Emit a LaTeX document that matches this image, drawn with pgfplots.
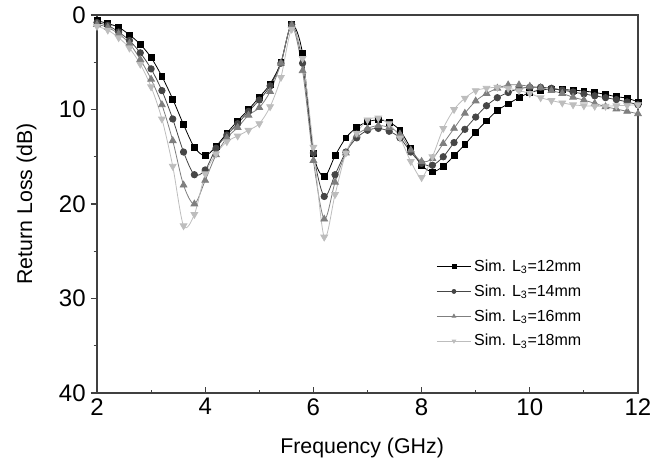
\documentclass[border=0pt]{standalone}
\usepackage{pgfplots}
\pgfplotsset{compat=1.18}
\usepackage{fontspec}
\setmainfont{Liberation Sans}
\definecolor{c1}{HTML}{000000}
\definecolor{c2}{HTML}{464646}
\definecolor{c3}{HTML}{7F7F7F}
\definecolor{c4}{HTML}{BDBDBD}
\begin{document}
\begin{tikzpicture}
\useasboundingbox (-72.75pt,-56.25pt) rectangle (426pt,294.75pt);
\begin{axis}[
 scale only axis, width=405.75pt, height=283.5pt,
 xmin=2, xmax=12, ymin=0, ymax=40, y dir=reverse,
 xtick={2,4,...,12}, ytick={0,10,...,40},
 minor xtick={3,5,...,11}, minor ytick={5,15,25,35},
 tick pos=left,
 xtick align=inside, ytick align=outside,
 major tick length=4.5pt, minor tick length=2.5pt,
 axis line style={black!75, line width=1pt},
 every tick/.style={black!75, line width=0.8pt},
 /pgf/number format/assume math mode=true,
 every tick label/.append style={font=\fontsize{18}{20}\selectfont},
 yticklabel style={xshift=-0.5pt},
 xticklabel style={yshift=-0.5pt},
 label style={font=\fontsize{16}{18}\selectfont},
 xlabel={Frequency (GHz)}, ylabel={Return Loss (dB)},
 xlabel style={at={(axis description cs:0.49,-0.145)}, anchor=center},
 ylabel style={at={(axis description cs:-0.13,0.5)}, anchor=center},
 legend style={at={(0.627,0.36)}, anchor=north west, draw=none, fill=none,
   font=\fontsize{12}{14}\selectfont, row sep=4.4pt, inner sep=0pt},
 legend cell align=left,
 legend image code/.code={\draw[mark repeat=2,mark phase=2,#1,mark size=1.5pt] plot coordinates {(0cm,0cm) (0.45cm,0cm) (0.9cm,0cm)};},
]
\addplot[c1, line width=0.6pt, smooth, tension=0.5, mark=square*, mark size=2.2pt, mark options={solid, fill=c1}] coordinates {
(2.0,0.6) (2.2,0.9) (2.4,1.3) (2.6,2.1) (2.8,3.1) (3.0,4.5) (3.2,6.5) (3.4,8.9) (3.6,11.6) (3.8,14.0)
(4.0,14.9) (4.2,13.9) (4.4,12.5) (4.6,11.2) (4.8,10.0) (5.0,8.7) (5.2,7.3) (5.4,5.0) (5.6,1.0) (5.8,4.1)
(6.0,14.6) (6.2,17.1) (6.4,14.9) (6.6,13.0) (6.8,11.9) (7.0,11.3) (7.2,11.1) (7.4,11.35) (7.6,12.2) (7.8,14.1)
(8.0,15.9) (8.2,16.6) (8.4,16.0) (8.6,14.9) (8.8,13.7) (9.0,12.4) (9.2,11.2) (9.4,10.1) (9.6,9.4) (9.8,8.75)
(10.0,8.2) (10.2,7.95) (10.4,7.85) (10.6,7.9) (10.8,7.95) (11.0,8.05) (11.2,8.2) (11.4,8.4) (11.6,8.65) (11.8,8.8) (12.0,9.2)
};
\addlegendentry{Sim. L\textsubscript{3}=12mm}
\addplot[c2, line width=0.6pt, smooth, tension=0.5, mark=*, mark size=2.4pt, mark options={solid, fill=c2}] coordinates {
(2.0,0.8) (2.2,1.1) (2.4,1.8) (2.6,2.7) (2.8,4.0) (3.0,5.7) (3.2,8.0) (3.4,11.0) (3.6,14.5) (3.8,16.9)
(4.0,16.4) (4.2,14.1) (4.4,12.7) (4.6,11.5) (4.8,10.2) (5.0,9.0) (5.2,7.5) (5.4,5.1) (5.6,1.0) (5.8,5.1)
(6.0,14.6) (6.2,19.2) (6.4,16.9) (6.6,14.5) (6.8,13.0) (7.0,12.2) (7.2,12.0) (7.4,12.3) (7.6,13.0) (7.8,14.5)
(8.0,15.7) (8.2,15.9) (8.4,15.0) (8.6,13.5) (8.8,12.1) (9.0,10.8) (9.2,9.6) (9.4,8.75) (9.6,8.2) (9.8,7.8)
(10.0,7.65) (10.2,7.65) (10.4,7.75) (10.6,7.95) (10.8,8.15) (11.0,8.35) (11.2,8.55) (11.4,8.75) (11.6,8.95) (11.8,9.2) (12.0,9.5)
};
\addlegendentry{Sim. L\textsubscript{3}=14mm}
\addplot[c3, line width=0.6pt, smooth, tension=0.5, mark=triangle*, mark size=2.9pt, mark options={solid, fill=c3}] coordinates {
(2.0,1.0) (2.2,1.3) (2.4,2.0) (2.6,3.0) (2.8,4.7) (3.0,6.8) (3.2,9.5) (3.4,13.3) (3.6,18.0) (3.8,20.0)
(4.0,17.5) (4.2,14.8) (4.4,13.0) (4.6,11.9) (4.8,10.6) (5.0,9.8) (5.2,8.1) (5.4,5.1) (5.6,1.1) (5.8,5.9)
(6.0,15.4) (6.2,21.6) (6.4,17.7) (6.6,14.6) (6.8,12.7) (7.0,12.0) (7.2,11.7) (7.4,11.9) (7.6,12.6) (7.8,14.3)
(8.0,15.5) (8.2,15.2) (8.4,13.6) (8.6,12.0) (8.8,10.4) (9.0,9.1) (9.2,8.3) (9.4,7.75) (9.6,7.4) (9.8,7.4)
(10.0,7.55) (10.2,7.7) (10.4,8.0) (10.6,8.3) (10.8,8.7) (11.0,9.0) (11.2,9.35) (11.4,9.7) (11.6,9.95) (11.8,10.2) (12.0,10.45)
};
\addlegendentry{Sim. L\textsubscript{3}=16mm}
\addplot[c4, line width=0.6pt, smooth, tension=0.5, mark=triangle*, mark size=2.9pt, mark options={solid, fill=c4, rotate=180}] coordinates {
(2.0,1.2) (2.2,1.6) (2.4,2.4) (2.6,3.5) (2.8,5.2) (3.0,7.6) (3.2,11.0) (3.4,16.0) (3.6,22.3) (3.8,21.1)
(4.0,16.8) (4.2,14.7) (4.4,13.4) (4.6,12.8) (4.8,12.2) (5.0,11.5) (5.2,9.7) (5.4,6.6) (5.6,1.5) (5.8,4.6)
(6.0,14.0) (6.2,23.5) (6.4,19.0) (6.6,14.6) (6.8,12.5) (7.0,11.1) (7.2,10.9) (7.4,11.5) (7.6,13.0) (7.8,15.5)
(8.0,17.2) (8.2,15.0) (8.4,12.0) (8.6,10.0) (8.8,8.8) (9.0,8.0) (9.2,7.75) (9.4,7.65) (9.6,7.75) (9.8,8.0)
(10.0,8.3) (10.2,8.75) (10.4,9.05) (10.6,9.3) (10.8,9.5) (11.0,9.6) (11.2,9.65) (11.4,9.65) (11.6,9.6) (11.8,9.55) (12.0,9.5)
};
\addlegendentry{Sim. L\textsubscript{3}=18mm}
\end{axis}
\end{tikzpicture}
\end{document}
